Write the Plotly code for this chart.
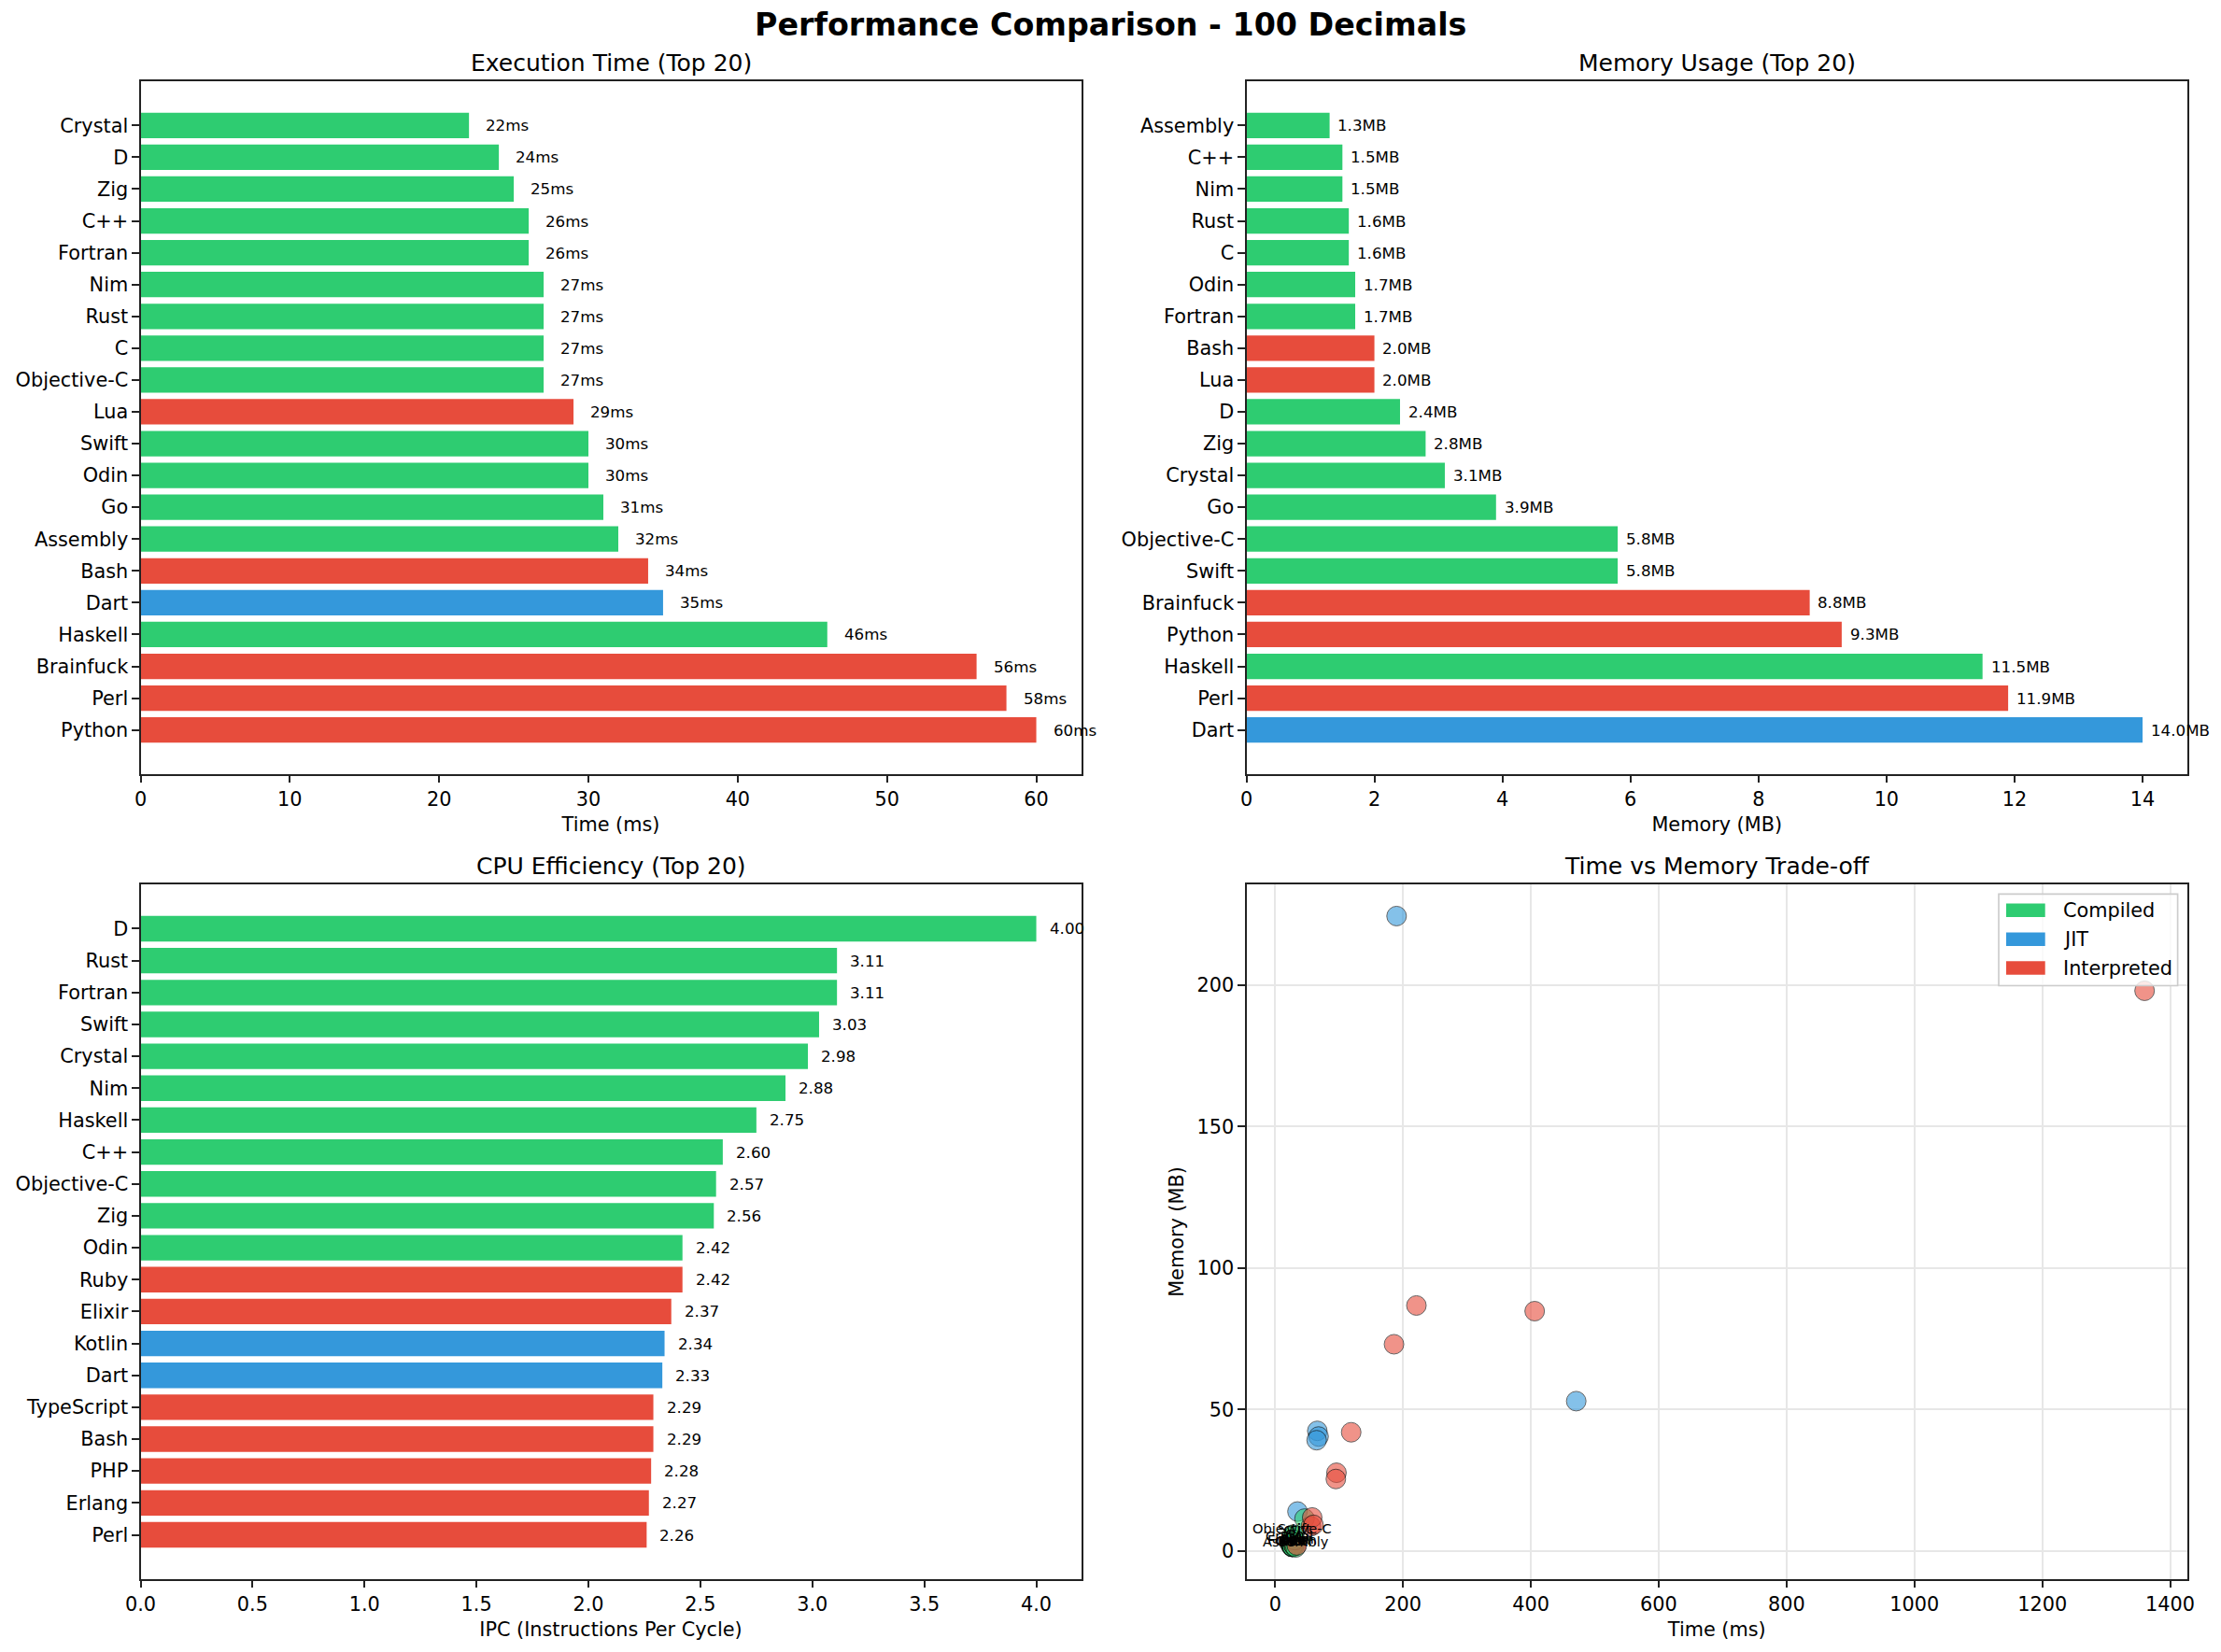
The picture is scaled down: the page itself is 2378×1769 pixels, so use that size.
import plotly.graph_objects as go

# ---------------- data ----------------
time_langs = ["Crystal", "D", "Zig", "C++", "Fortran", "Nim", "Rust", "C", "Objective-C", "Lua",
              "Swift", "Odin", "Go", "Assembly", "Bash", "Dart", "Haskell", "Brainfuck", "Perl", "Python"]
time_vals = [22, 24, 25, 26, 26, 27, 27, 27, 27, 29, 30, 30, 31, 32, 34, 35, 46, 56, 58, 60]

mem_langs = ["Assembly", "C++", "Nim", "Rust", "C", "Odin", "Fortran", "Bash", "Lua", "D",
             "Zig", "Crystal", "Go", "Objective-C", "Swift", "Brainfuck", "Python", "Haskell", "Perl", "Dart"]
mem_vals = [1.3, 1.5, 1.5, 1.6, 1.6, 1.7, 1.7, 2.0, 2.0, 2.4, 2.8, 3.1, 3.9, 5.8, 5.8, 8.8, 9.3, 11.5, 11.9, 14.0]

cpu_langs = ["D", "Rust", "Fortran", "Swift", "Crystal", "Nim", "Haskell", "C++", "Objective-C", "Zig",
             "Odin", "Ruby", "Elixir", "Kotlin", "Dart", "TypeScript", "Bash", "PHP", "Erlang", "Perl"]
cpu_vals = [4.00, 3.11, 3.11, 3.03, 2.98, 2.88, 2.75, 2.60, 2.57, 2.56,
            2.42, 2.42, 2.37, 2.34, 2.33, 2.29, 2.29, 2.28, 2.27, 2.26]

# languages only visible in the scatter (time ms, memory MB)
extra_langs = ["Ruby", "PHP", "JavaScript", "TypeScript", "Erlang", "Elixir", "R",
               "Java", "Kotlin", "Scala", "C#", "Julia"]
extra_time = [96, 95, 119, 186, 221, 406, 1360, 66, 68, 65, 471, 190]
extra_mem = [27.7, 25.5, 42.0, 73.1, 86.8, 84.8, 198.0, 42.5, 40.5, 39.2, 53.0, 224.4]

compiled = ["Crystal", "D", "Zig", "C++", "Fortran", "Nim", "Rust", "C", "Objective-C", "Swift",
            "Odin", "Go", "Assembly", "Haskell"]
jit = ["Dart", "Java", "Kotlin", "Scala", "C#", "Julia"]
interpreted = ["Lua", "Bash", "Brainfuck", "Perl", "Python", "Ruby", "PHP", "JavaScript",
               "TypeScript", "Erlang", "Elixir", "R"]

type_names = ["Compiled", "JIT", "Interpreted"]
type_colors = ["#2ecc71", "#3498db", "#e74c3c"]

labeled_count = 15  # fastest languages get a text label in the scatter

# ---------------- helpers ----------------
def color_of(lang):
    if lang in compiled:
        return type_colors[0]
    if lang in jit:
        return type_colors[1]
    return type_colors[2]

mem_lookup = dict(zip(mem_langs, mem_vals))
sc_langs = list(time_langs) + extra_langs
sc_time = list(time_vals) + extra_time
sc_mem = [mem_lookup[l] for l in time_langs] + extra_mem

W, H = 2378, 1769
FONT = "DejaVu Sans"
TICK = 20.8
LINE = "#222222"

def px_x(p):
    return p / W

def px_y(p):
    return 1 - p / H

# axes boxes in pixels (left, right, top, bottom)
boxes = {
    1: (150.5, 1157.5, 87.0, 829.0),
    2: (1334.5, 2342.0, 87.0, 829.0),
    3: (150.5, 1157.5, 947.0, 1691.0),
    4: (1334.5, 2342.0, 947.0, 1691.0),
}

fig = go.Figure()

# bar charts
bar_sets = [
    (1, time_langs, time_vals, 1.0, "{:.0f}ms", [0, 63.0]),
    (2, mem_langs, mem_vals, 0.1, "{:.1f}MB", [0, 14.7]),
    (3, cpu_langs, cpu_vals, 0.05, "{:.2f}", [0, 4.2]),
]
annotations = []
for idx, langs, vals, off, fmt, rng in bar_sets:
    sfx = "" if idx == 1 else str(idx)
    fig.add_trace(go.Bar(
        x=vals, y=langs, orientation="h", width=0.8,
        marker=dict(color=[color_of(l) for l in langs], line=dict(width=0)),
        xaxis="x" + sfx, yaxis="y" + sfx, showlegend=False,
    ))
    for l, v in zip(langs, vals):
        annotations.append(dict(
            x=v + off, y=l, xref="x" + sfx, yref="y" + sfx, text=fmt.format(v),
            showarrow=False, xanchor="left", yanchor="middle",
            font=dict(family=FONT, size=16.7, color="black"),
        ))

# scatter
fig.add_trace(go.Scatter(
    x=sc_time, y=sc_mem, mode="markers", xaxis="x4", yaxis="y4", showlegend=False,
    marker=dict(size=21, color=[color_of(l) for l in sc_langs], opacity=0.6,
                line=dict(color="black", width=1)),
    text=sc_langs,
))
for l, t, m in zip(sc_langs[:labeled_count], sc_time[:labeled_count], sc_mem[:labeled_count]):
    annotations.append(dict(
        x=t, y=m, xref="x4", yref="y4", text=l, showarrow=False,
        xanchor="center", yanchor="middle", yshift=7,
        font=dict(family=FONT, size=14.6, color="black"),
    ))

# titles
titles = {1: "Execution Time (Top 20)", 2: "Memory Usage (Top 20)",
          3: "CPU Efficiency (Top 20)", 4: "Time vs Memory Trade-off"}
for k, t in titles.items():
    l, r, tp, b = boxes[k]
    annotations.append(dict(
        x=px_x((l + r) / 2), y=px_y(tp - 20), xref="paper", yref="paper", text=t,
        showarrow=False, xanchor="center", yanchor="middle",
        font=dict(family=FONT, size=25, color="black"),
    ))
annotations.append(dict(
    x=0.5, y=px_y(27), xref="paper", yref="paper",
    text="<b>Performance Comparison - 100 Decimals</b>", showarrow=False,
    xanchor="center", yanchor="middle", font=dict(family=FONT, size=33.3, color="black"),
))

# manual legend (matplotlib style patches) inside scatter axes
l4, r4, t4, b4 = boxes[4]
def dx(p):
    return (p - l4) / (r4 - l4)

def dy(p):
    return 1 - (p - t4) / (b4 - t4)

shapes = [dict(type="rect", xref="x4 domain", yref="y4 domain",
               x0=dx(2140), x1=dx(2331.6), y0=dy(1055.5), y1=dy(957.4),
               line=dict(color="#cccccc", width=1.67), fillcolor="rgba(255,255,255,0.8)",
               layer="above")]
rows = [974.8, 1005.8, 1036.5]
for name, col, ry in zip(type_names, type_colors, rows):
    shapes.append(dict(type="rect", xref="x4 domain", yref="y4 domain",
                       x0=dx(2148), x1=dx(2189.7), y0=dy(ry + 7.3), y1=dy(ry - 7.3),
                       line=dict(width=0), fillcolor=col, layer="above"))
    annotations.append(dict(x=dx(2206.5), y=dy(ry), xref="x4 domain", yref="y4 domain",
                            text=name, showarrow=False, xanchor="left", yanchor="middle",
                            font=dict(family=FONT, size=TICK, color="black")))

def axis(k, is_x, **kw):
    l, r, tp, b = boxes[k]
    d = dict(
        domain=[px_x(l), px_x(r)] if is_x else [px_y(b), px_y(tp)],
        showline=True, mirror=True, linecolor=LINE, linewidth=1.67,
        ticks="outside", ticklen=7.3, tickwidth=1.67, tickcolor=LINE,
        tickfont=dict(family=FONT, size=TICK, color="black"),
        showgrid=False, zeroline=False, automargin=False,
        title_font=dict(family=FONT, size=TICK, color="black"),
    )
    d.update(kw)
    return d

layout = dict(
    width=W, height=H, autosize=False,
    margin=dict(l=0, r=0, t=0, b=0),
    paper_bgcolor="white", plot_bgcolor="white",
    font=dict(family=FONT, color="black"),
    showlegend=False, bargap=0.2,
    annotations=annotations, shapes=shapes,
)
layout["xaxis"] = axis(1, True, range=[0, 63.0], dtick=10, anchor="y",
                       title=dict(text="Time (ms)", standoff=8))
layout["yaxis"] = axis(1, False, type="category", categoryorder="array", categoryarray=time_langs,
                       range=[20.39, -1.39], anchor="x")
layout["xaxis2"] = axis(2, True, range=[0, 14.7], dtick=2, anchor="y2",
                        title=dict(text="Memory (MB)", standoff=8))
layout["yaxis2"] = axis(2, False, type="category", categoryorder="array", categoryarray=mem_langs,
                        range=[20.39, -1.39], anchor="x2")
layout["xaxis3"] = axis(3, True, range=[0, 4.2], dtick=0.5, tickformat=".1f", anchor="y3",
                        title=dict(text="IPC (Instructions Per Cycle)", standoff=8))
layout["yaxis3"] = axis(3, False, type="category", categoryorder="array", categoryarray=cpu_langs,
                        range=[20.39, -1.39], anchor="x3")
layout["xaxis4"] = axis(4, True, range=[-44.9, 1426.9], dtick=200, anchor="y4",
                        showgrid=True, gridcolor="#e7e7e7", gridwidth=1.67,
                        title=dict(text="Time (ms)", standoff=8))
layout["yaxis4"] = axis(4, False, range=[-9.9, 235.6], dtick=50, anchor="x4",
                        showgrid=True, gridcolor="#e7e7e7", gridwidth=1.67,
                        title=dict(text="Memory (MB)", standoff=8))

fig.update_layout(**layout)
fig.write_html("out.html")
